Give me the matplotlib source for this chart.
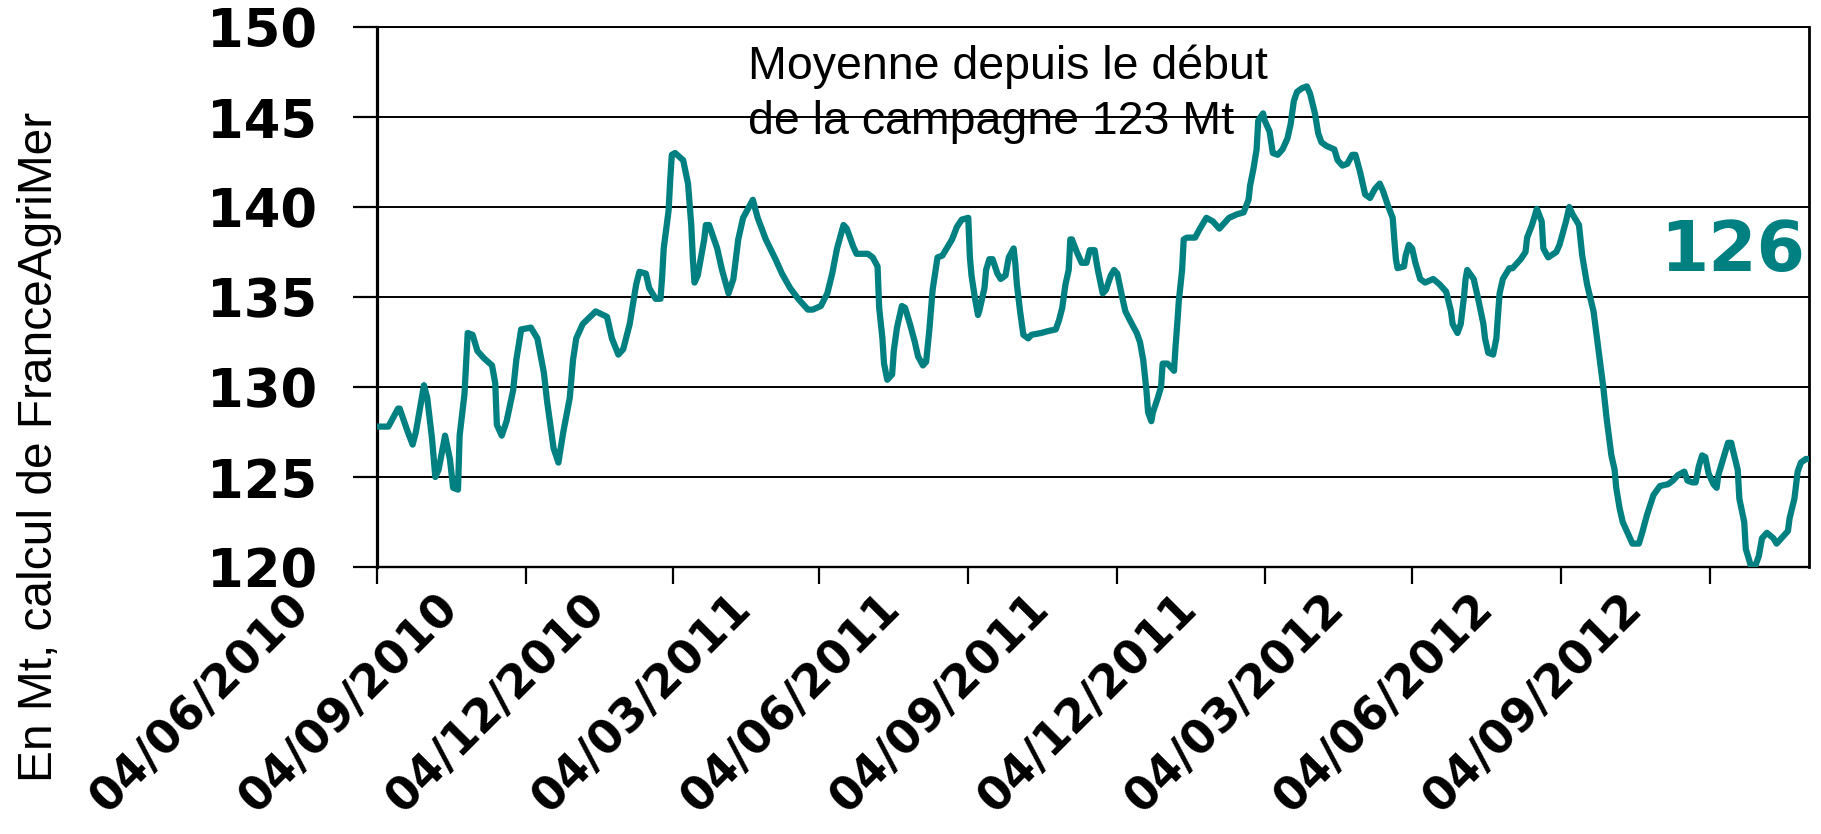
import matplotlib
matplotlib.use("Agg")
import matplotlib.pyplot as plt
import matplotlib.transforms as mtransforms
import pandas as pd

START = "2010-06-04"

# days since START
days = [
    0, 4, 7, 13, 14, 19, 22, 24, 29, 31, 34, 36, 38, 41, 42, 45, 47, 50, 51, 54,
    56, 59, 62, 66, 71, 73, 74, 77, 80, 84, 86, 89, 95, 99, 103, 105, 109, 112, 115, 119,
    121, 123, 127, 135, 142, 145, 149, 152, 156, 160, 162, 166, 168, 172, 175, 176, 177, 180, 181, 182,
    184, 189, 192, 194, 195, 196, 198, 202, 203, 205, 210, 213, 217, 220, 223, 226, 232, 235, 240, 246,
    250, 255, 260, 266, 269, 274, 278, 281, 284, 288, 290, 294, 296, 303, 306, 309, 310, 312, 313, 315,
    318, 319, 321, 324, 326, 329, 332, 334, 337, 339, 341, 343, 345, 346, 349, 355, 358, 361, 365, 366,
    367, 369, 371, 372, 375, 376, 378, 380, 383, 385, 388, 390, 393, 394, 395, 397, 399, 402, 404, 410,
    414, 419, 421, 423, 425, 427, 428, 429, 432, 435, 438, 440, 443, 445, 448, 450, 453, 455, 457, 460,
    462, 466, 469, 471, 473, 475, 476, 478, 479, 482, 484, 485, 488, 492, 493, 494, 495, 497, 498, 500,
    505, 508, 512, 516, 520, 522, 526, 531, 535, 538, 539, 541, 543, 544, 547, 548, 551, 553, 556, 559,
    562, 564, 566, 568, 571, 574, 576, 579, 581, 583, 586, 591, 593, 596, 599, 602, 604, 607, 610, 613,
    616, 619, 621, 624, 627, 628, 629, 630, 634, 635, 637, 639, 641, 644, 647, 652, 656, 660, 663, 664,
    667, 669, 671, 672, 673, 677, 680, 683, 684, 686, 689, 691, 692, 693, 695, 699, 701, 706, 709, 710,
    713, 716, 719, 720, 723, 728, 730, 734, 736, 738, 742, 744, 747, 751, 754, 757, 759, 762, 764, 765,
    767, 769, 773, 775, 779, 781, 784, 788, 792, 797, 800, 803, 807, 809, 812, 814, 816, 818, 820, 822,
    825, 827, 828, 831, 834, 836, 837, 840, 841, 844, 845, 848, 851, 853, 855, 858, 862, 864, 867, 871,
    872, 875, 877, 879, 882, 884,
]

# Mt
values = [
    127.8, 127.8, 127.8, 128.8, 128.8, 127.5, 126.8, 127.5, 130.1, 129.4, 127.1, 125.0, 125.4, 126.8, 127.3, 126.0, 124.4, 124.3, 127.3, 129.6,
    133.0, 132.9, 132.0, 131.6, 131.2, 130.2, 127.9, 127.3, 128.1, 129.8, 131.5, 133.2, 133.3, 132.7, 130.8, 129.2, 126.6, 125.8, 127.5, 129.4,
    131.5, 132.7, 133.5, 134.2, 133.9, 132.7, 131.8, 132.1, 133.5, 135.7, 136.4, 136.3, 135.5, 134.9, 134.9, 136.1, 137.7, 139.8, 141.5, 142.9,
    143.0, 142.6, 141.3, 139.0, 137.1, 135.8, 136.2, 138.2, 139.0, 139.0, 137.7, 136.5, 135.2, 136.0, 138.2, 139.4, 140.4, 139.4, 138.2, 137.1,
    136.3, 135.5, 134.9, 134.3, 134.3, 134.5, 135.2, 136.3, 137.7, 139.0, 138.8, 137.8, 137.4, 137.4, 137.2, 136.7, 134.4, 132.7, 131.3, 130.4,
    130.7, 132.0, 133.3, 134.5, 134.4, 133.5, 132.5, 131.7, 131.2, 131.4, 133.2, 135.4, 136.6, 137.2, 137.3, 138.2, 138.9, 139.3, 139.4, 137.2,
    136.2, 135.0, 134.0, 134.3, 135.5, 136.5, 137.1, 137.1, 136.3, 136.0, 136.2, 137.2, 137.7, 136.9, 135.7, 134.2, 132.9, 132.7, 132.9, 133.0,
    133.1, 133.2, 133.7, 134.4, 135.7, 136.5, 138.2, 138.2, 137.5, 136.9, 136.9, 137.6, 137.6, 136.5, 135.2, 135.4, 136.2, 136.5, 136.3, 135.0,
    134.2, 133.5, 133.0, 132.5, 131.5, 129.8, 128.6, 128.1, 128.6, 129.4, 130.0, 131.3, 131.3, 130.9, 132.3, 133.5, 134.8, 136.5, 138.2, 138.3,
    138.3, 138.8, 139.4, 139.2, 138.8, 139.0, 139.4, 139.6, 139.7, 140.4, 141.2, 142.1, 143.2, 144.8, 145.2, 144.8, 144.2, 143.0, 142.9, 143.2,
    143.8, 144.6, 145.9, 146.4, 146.6, 146.7, 146.3, 145.2, 144.1, 143.6, 143.4, 143.2, 142.6, 142.3, 142.4, 142.9, 142.9, 141.9, 140.7, 140.5,
    141.0, 141.3, 140.9, 140.1, 139.4, 138.2, 137.1, 136.6, 136.7, 137.3, 137.9, 137.7, 136.9, 136.0, 135.8, 136.0, 135.7, 135.3, 134.2, 133.5,
    133.0, 133.5, 135.0, 136.0, 136.5, 136.0, 134.8, 133.5, 132.7, 131.9, 131.8, 132.7, 134.0, 135.2, 136.0, 136.6, 136.6, 137.1, 137.5, 138.3,
    139.0, 139.9, 139.2, 137.7, 137.2, 137.5, 137.9, 139.2, 140.0, 139.6, 139.0, 137.3, 135.7, 134.2, 132.1, 130.0, 128.3, 126.2, 125.4, 124.4,
    123.3, 122.5, 121.7, 121.3, 121.3, 121.9, 122.9, 124.0, 124.5, 124.6, 124.8, 125.1, 125.3, 124.8, 124.7, 124.7, 125.6, 126.2, 126.1, 125.2,
    124.6, 124.4, 125.1, 126.0, 126.9, 126.9, 126.5, 125.4, 123.8, 122.5, 121.0, 120.1, 120.1, 120.6, 121.6, 121.9, 121.6, 121.3, 121.6, 122.0,
    122.7, 123.8, 125.3, 125.8, 126.0, 126.0,
]

x_tick_labels = ["04/06/2010", "04/09/2010", "04/12/2010", "04/03/2011", "04/06/2011",
                 "04/09/2011", "04/12/2011", "04/03/2012", "04/06/2012", "04/09/2012"]
y_ticks = [120, 125, 130, 135, 140, 145, 150]
x_end_days = 884
last_value_label = "126"
note_lines = ["Moyenne depuis le début", "de la campagne 123 Mt"]
y_label = "En Mt, calcul de FranceAgriMer"

assert len(days) == len(values)

W, H = 1821, 834
fig = plt.figure(figsize=(W / 100, H / 100), dpi=100)
ax_left, ax_right, ax_top, ax_bottom = 377, 1809, 27, 567
ax = fig.add_axes([ax_left / W, 1 - ax_bottom / H, (ax_right - ax_left) / W,
                   (ax_bottom - ax_top) / H])

start = pd.Timestamp(START)
dates = start + pd.to_timedelta(days, unit="D")
teal = "#008080"
ax.plot(dates, values, color=teal, lw=4.5, solid_joinstyle="round",
        solid_capstyle="round", zorder=3)

ax.set_xlim(start, start + pd.Timedelta(days=x_end_days))
ax.set_ylim(min(y_ticks), max(y_ticks))

# x ticks
tick_dates = pd.to_datetime(x_tick_labels, format="%d/%m/%Y")
ax.set_xticks(tick_dates)
ax.set_xticklabels(x_tick_labels, rotation=45, ha="right", va="baseline",
                   rotation_mode="anchor", fontfamily="DejaVu Sans",
                   fontweight="bold", fontsize=33)
ax.tick_params(axis="x", length=12, width=1.6, direction="out", pad=19, color="black")
offset = mtransforms.ScaledTranslation(-0.66, 0, fig.dpi_scale_trans)
for lab in ax.get_xticklabels():
    lab.set_transform(lab.get_transform() + offset)

# y ticks
ax.set_yticks(y_ticks)
ax.set_yticklabels([str(v) for v in y_ticks], fontfamily="DejaVu Sans",
                   fontweight="bold", fontsize=38)
ax.tick_params(axis="y", length=17, width=1.6, direction="out", pad=26, color="black")

ax.grid(axis="y", color="black", lw=1.4)
ax.grid(axis="x", visible=False)
ax.set_axisbelow(True)

ax.spines["left"].set_linewidth(2.3)
ax.spines["bottom"].set_linewidth(1.7)
ax.spines["right"].set_linewidth(2.0)
ax.spines["top"].set_linewidth(1.4)
for s in ax.spines.values():
    s.set_color("black")

# annotation
fig.text(748 / W, 1 - 79 / H, note_lines[0], fontsize=33.5, family="Liberation Sans",
         va="baseline", ha="left")
fig.text(748 / W, 1 - 134 / H, note_lines[1], fontsize=33.5, family="Liberation Sans",
         va="baseline", ha="left")

fig.text(1805 / W, 1 - 271 / H, last_value_label, ha="right", va="baseline",
         color=teal, fontsize=50, fontweight="bold", family="DejaVu Sans")

fig.text(52 / W, 1 - 782 / H, y_label, rotation=90, rotation_mode="anchor",
         ha="left", va="baseline", fontsize=34.5, family="Liberation Sans")

fig.savefig("out.png", dpi=100)
